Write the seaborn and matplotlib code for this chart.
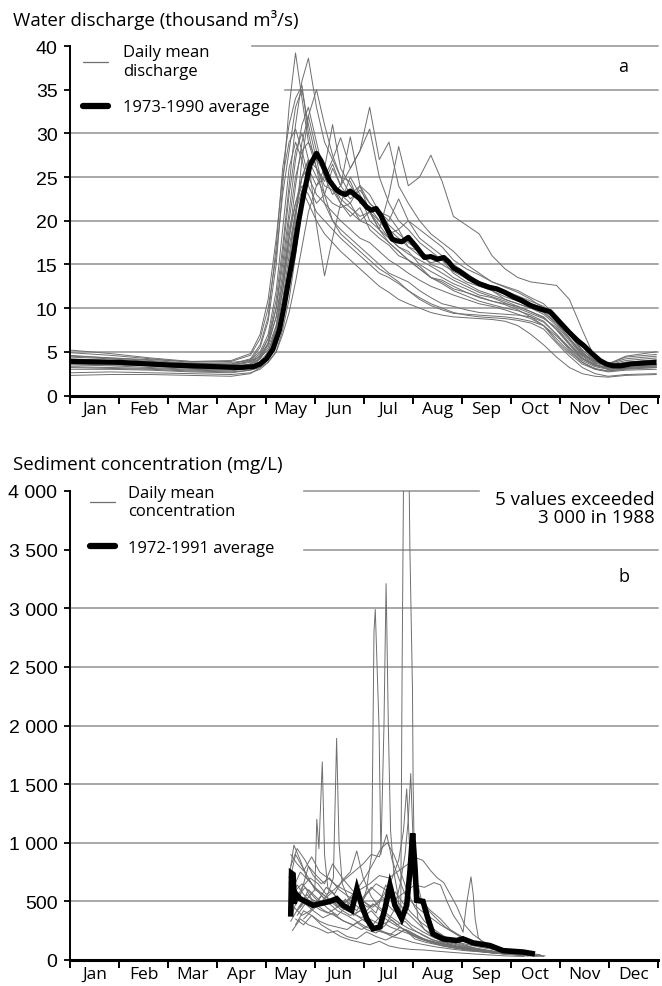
import numpy as np
import pandas as pd
import matplotlib
matplotlib.use("Agg")
import matplotlib.pyplot as plt
from matplotlib.lines import Line2D
from matplotlib.patches import Rectangle
import seaborn as sns

# ---------------------------------------------------------------- data
months = ["Jan", "Feb", "Mar", "Apr", "May", "Jun",
          "Jul", "Aug", "Sep", "Oct", "Nov", "Dec"]

# daily discharge (thousand m3/s), sampled on a common day-of-year grid
q_days = [0, 25, 50, 75, 100, 112, 118, 123, 128, 132, 136, 140, 144, 148, 153,
          158, 163, 168, 174, 180, 186, 192, 198, 204, 210, 217, 224, 231, 238,
          246, 254, 262, 270, 278, 286, 294, 302, 310, 318, 326, 334, 345, 364]

q_1973 = [4.2, 4.0, 3.7, 3.4, 3.4, 4.0, 5.5, 8.5, 15, 24, 33, 39.2, 34, 29, 26,
          24, 23.5, 22, 20.5, 21.5, 19, 18, 17.2, 16, 15.5, 14.8, 13.5, 13.2, 12.5,
          11.8, 11.2, 10.8, 10.5, 10.2, 9.6, 9.0, 7.5, 5.8, 4.2, 3.4, 3.2, 3.5, 3.6]
q_1974 = [3.8, 3.7, 3.5, 3.2, 3.1, 3.6, 4.6, 6.5, 11, 17, 24, 31, 36, 38.6, 33,
          29, 27, 25, 24.5, 22, 21.5, 20, 18.5, 19, 17, 16, 15.2, 15.5, 14,
          13, 12.5, 12, 11, 10.5, 10, 9.5, 8.2, 6.5, 4.8, 3.9, 3.4, 3.8, 4.1]
q_1975 = [3.5, 3.4, 3.2, 3.0, 2.9, 3.1, 3.6, 4.3, 6, 9, 14, 20, 27, 32, 35,
          31, 27.5, 25, 23, 24, 21, 19.5, 18, 17, 16.5, 15, 14.2, 13.5, 12.8,
          12.2, 11.5, 11.2, 10.6, 10.0, 9.4, 8.8, 7.8, 6.0, 4.5, 3.5, 3.0, 3.2, 3.4]
q_1976 = [4.6, 4.3, 4.0, 3.7, 3.6, 4.2, 5.8, 9, 17, 26, 31, 34, 35.5, 30, 26,
          22, 20, 19, 18, 17, 16, 15, 14, 13.5, 13, 12, 11.2, 10.5, 10.2,
          9.8, 9.5, 9.4, 9.3, 9.2, 9.0, 8.4, 7.0, 5.2, 3.8, 3.0, 2.7, 2.9, 3.0]
q_1977 = [3.3, 3.2, 3.1, 2.9, 2.8, 3.2, 4.2, 6, 10, 16, 23, 28, 30, 27, 19.5,
          13.7, 18, 22, 25, 23, 20, 19, 17.5, 16.5, 15.5, 14.5, 13.5, 12.8, 12.0,
          11.4, 10.8, 10.4, 10.0, 9.7, 9.2, 8.5, 7.0, 5.5, 4.2, 3.5, 3.2, 3.4, 3.5]
q_1978 = [4.0, 3.9, 3.7, 3.5, 3.4, 3.8, 4.5, 6, 9, 13, 18, 22, 25, 26, 24,
          25, 27, 29.5, 26, 28, 33, 27, 29, 24, 22, 20, 18.5, 17.5, 16.5,
          15, 14, 13, 12.5, 12.0, 11.2, 10.5, 9.0, 7.0, 5.2, 4.0, 3.6, 4.2, 4.5]
q_1979 = [4.5, 4.3, 4.1, 3.9, 3.8, 4.0, 4.4, 5.2, 7, 10, 15, 21, 25, 27, 25,
          23, 22, 21.5, 22, 20, 21, 19, 23, 28.5, 24, 25, 27.5, 24.5, 20.5,
          19.5, 18.5, 16, 14.5, 13.5, 13.0, 12.8, 12.6, 11.0, 7.5, 4.2, 3.6, 4.5, 5.0]
q_1980 = [5.2, 4.8, 4.3, 3.9, 4.0, 4.8, 7, 11, 18, 25, 29, 30.5, 28, 25, 23,
          22, 21, 20, 19, 18, 17.5, 16.5, 15.5, 14.8, 14, 13.2, 12.5, 12, 11.5,
          11, 10.5, 10.2, 9.8, 9.3, 8.8, 8.0, 6.2, 4.8, 3.6, 3.0, 2.8, 3.0, 3.2]
q_1981 = [3.6, 3.5, 3.4, 3.2, 3.1, 3.5, 4.2, 5.5, 8, 12, 18, 24, 29, 32, 28,
          26, 31, 26, 24, 22.5, 21, 20, 19, 18, 17, 16.5, 15, 14.5, 13.5,
          12.8, 12, 11.5, 11, 10.5, 10, 9.3, 8.0, 6.3, 4.6, 3.7, 3.3, 3.6, 3.9]
q_1982 = [2.6, 2.7, 2.6, 2.5, 2.4, 2.6, 3.0, 3.8, 5, 7.5, 11, 16, 22, 26, 28,
          25, 23, 24, 26, 28, 30.5, 25, 22, 20, 19, 17.5, 16.5, 15.5, 14.5,
          13.5, 12.8, 12.2, 11.6, 11, 10.4, 9.8, 8.6, 7.0, 5.0, 3.6, 3.0, 3.2, 3.4]
q_1983 = [3.0, 3.0, 2.9, 2.7, 2.6, 2.9, 3.5, 4.8, 8, 13, 19, 22, 24, 23, 21,
          20, 19, 18, 17, 16, 15, 14, 13.5, 12.8, 12, 11.2, 10.5, 10, 9.5,
          9.2, 9.0, 8.9, 8.8, 8.6, 8.3, 7.6, 6.0, 4.5, 3.2, 2.5, 2.2, 2.4, 2.5]
q_1984 = [4.4, 4.2, 3.9, 3.6, 3.5, 3.9, 4.8, 6.5, 10, 15, 21, 27, 31, 33, 29,
          25, 24, 23, 22, 24, 22, 21, 20, 22.5, 20, 18, 17, 16, 15,
          14, 13, 12.5, 12, 11.4, 10.8, 10.2, 8.8, 7.2, 5.2, 4.0, 3.5, 4.0, 4.3]
q_1985 = [3.2, 3.1, 3.0, 2.8, 2.7, 2.9, 3.2, 3.8, 5, 7, 9.5, 13, 17, 21, 24,
          26, 24, 22, 21, 20, 19.5, 18.5, 17.5, 16.5, 15.5, 14.5, 13.5, 13, 12.2,
          11.8, 11.3, 10.8, 10.4, 9.8, 9.0, 8.0, 6.5, 5.0, 3.8, 3.1, 2.8, 3.1, 3.3]
q_1986 = [4.9, 4.6, 4.2, 3.8, 3.9, 4.6, 6.5, 10, 16, 23, 28, 33, 35, 31, 27,
          23, 20, 18.5, 17.5, 16.5, 15.5, 14.5, 13.8, 13, 12, 11, 10.3, 9.8, 9.4,
          9.3, 9.2, 9.1, 9.0, 8.8, 8.5, 8.0, 6.8, 5.4, 4.0, 3.3, 3.0, 3.1, 3.2]
q_1987 = [3.7, 3.6, 3.4, 3.1, 3.0, 3.3, 3.9, 5, 7.5, 11, 16, 21, 25, 27, 26,
          24.5, 26.5, 24, 22.5, 23.5, 22, 21, 20.5, 19, 20, 19, 18, 17, 15.5,
          14.5, 13.8, 13.0, 12.4, 11.8, 11.0, 10.0, 8.4, 6.5, 4.7, 3.8, 3.4, 3.8, 4.0]
q_1988 = [4.1, 4.0, 3.8, 3.6, 3.6, 4.1, 5.0, 7, 12, 19, 26, 29, 27, 24, 22,
          23, 26, 24, 29.6, 24, 23, 21, 19.5, 18.5, 17.5, 16.5, 15.8, 15, 14.2,
          13.4, 12.6, 12.0, 11.3, 10.8, 10.2, 9.6, 8.3, 6.6, 4.9, 3.9, 3.6, 4.4, 4.7]
q_1989 = [2.3, 2.4, 2.4, 2.3, 2.2, 2.5, 3.2, 4.5, 7.5, 12, 17, 21, 23.5, 22, 20,
          18.5, 17.5, 16.5, 15.5, 14.5, 13.5, 12.5, 11.8, 11, 10.5, 10, 9.5, 9.2, 9.0,
          8.9, 8.8, 8.7, 8.5, 8.0, 7.0, 5.8, 4.4, 3.2, 2.5, 2.2, 2.1, 2.3, 2.4]
q_1990 = [3.9, 3.8, 3.6, 3.4, 3.3, 3.6, 4.3, 5.8, 9, 14, 20, 25, 28, 29, 27,
          25.5, 24, 22.5, 21.5, 20.5, 21, 19, 18, 17, 16.2, 15.5, 14.8, 14, 13.2,
          12.5, 11.8, 11.3, 10.8, 10.2, 9.6, 8.9, 7.6, 5.9, 4.3, 3.5, 3.1, 3.4, 3.7]

q_years = {1973: q_1973, 1974: q_1974, 1975: q_1975, 1976: q_1976, 1977: q_1977,
           1978: q_1978, 1979: q_1979, 1980: q_1980, 1981: q_1981, 1982: q_1982,
           1983: q_1983, 1984: q_1984, 1985: q_1985, 1986: q_1986, 1987: q_1987,
           1988: q_1988, 1989: q_1989, 1990: q_1990}

# 1973-1990 average discharge
avg_q_days = [0, 30, 60, 90, 105, 114, 118, 122, 126, 130, 133, 136, 139, 142, 145,
              149, 153, 156, 161, 165, 168, 171, 174, 180, 184, 187, 190, 193, 196,
              200, 203, 206, 210, 215, 220, 224, 228, 232, 235, 238, 242, 248, 254,
              260, 265, 270, 275, 280, 286, 292, 298, 302, 306, 310, 315, 319, 324,
              329, 333, 337, 342, 348, 355, 364]
avg_q_vals = [3.9, 3.8, 3.5, 3.3, 3.2, 3.3, 3.6, 4.2, 5.3, 7.5, 10.3, 13.5, 16.5, 20.0, 23.0,
              26.4, 27.7, 26.8, 24.6, 23.6, 23.2, 23.0, 23.4, 22.5, 21.6, 21.2, 21.4, 20.6, 19.4,
              17.9, 17.7, 17.6, 18.1, 17.0, 15.8, 15.9, 15.6, 15.8, 15.3, 14.6, 14.2, 13.4, 12.8,
              12.4, 12.2, 11.8, 11.3, 10.9, 10.3, 9.9, 9.6, 8.8, 8.0, 7.2, 6.3, 5.7, 4.8,
              4.0, 3.6, 3.4, 3.4, 3.6, 3.7, 3.8]

# daily sediment concentration (mg/L), one record per year (day-of-year, value)
c1972_days = [136, 139, 143, 147, 152, 157, 163, 169, 175, 181, 187, 193, 199, 205, 211,
              217, 224, 231, 239, 248, 258, 268, 279, 290]
c1972_vals = [700, 980, 850, 700, 620, 560, 500, 440, 400, 360, 420, 330, 280, 250, 220,
              180, 150, 120, 100, 80, 65, 55, 45, 35]
c1973_days = [136, 140, 144, 148, 152, 153.2, 154.5, 156.6, 158, 160, 164, 168, 173, 178,
              183, 188, 193, 198, 204, 210, 216, 222, 230, 238, 246, 256, 266, 276, 286]
c1973_vals = [650, 900, 800, 700, 600, 1200, 950, 1690, 900, 620, 560, 500, 420, 380,
              330, 300, 380, 330, 280, 250, 200, 170, 140, 120, 100, 80, 65, 50, 40]
c1974_days = [138, 142, 146, 150, 155, 160, 163.5, 165.5, 167, 169, 173, 178, 183, 188,
              193, 198, 203, 208, 213, 219, 225, 232, 240, 248, 257, 266, 275, 284]
c1974_vals = [400, 550, 620, 520, 480, 560, 700, 1890, 1000, 650, 520, 460, 400, 480,
              420, 360, 300, 330, 260, 210, 170, 150, 120, 100, 85, 70, 55, 45]
c1975_days = [140, 145, 150, 155, 160, 166, 172, 178, 184, 190, 196, 201, 205, 208, 210,
              211.5, 213, 215, 218, 222, 227, 233, 240, 248, 256, 265, 274, 283, 292]
c1975_vals = [300, 420, 380, 330, 300, 280, 260, 320, 260, 230, 300, 420, 650, 900, 1200,
              1590, 1000, 700, 520, 430, 360, 280, 220, 170, 130, 100, 80, 60, 45]
c1976_days = [137, 141, 146, 151, 156, 161, 167, 173, 179, 185, 190, 195, 200, 204, 207,
              209, 211, 214, 218, 224, 230, 236, 243, 251, 260, 270, 281]
c1976_vals = [800, 950, 850, 720, 650, 700, 600, 540, 500, 450, 480, 560, 700, 850, 1100,
              1460, 900, 620, 500, 420, 350, 260, 200, 150, 110, 80, 55]
c1977_days = [140, 144, 149, 154, 159, 164, 170, 176, 182, 187, 192, 196.6, 200, 204, 208,
              213, 218, 224, 230, 236, 242, 249, 256, 264, 272, 281]
c1977_vals = [500, 620, 700, 650, 560, 600, 680, 750, 820, 900, 880, 1070, 850, 700, 560,
              480, 420, 360, 300, 250, 200, 160, 120, 95, 70, 50]
c1978_days = [142, 147, 152, 157, 162, 168, 174, 180, 186, 192, 198, 204, 210, 215, 219,
              224, 228, 232, 236, 240, 245, 250, 256, 263, 270, 278, 287]
c1978_vals = [450, 520, 600, 560, 500, 480, 520, 600, 650, 720, 700, 760, 820, 870, 850,
              760, 700, 660, 560, 460, 300, 220, 160, 120, 90, 70, 50]
c1979_days = [145, 150, 155, 160, 166, 172, 178, 184, 190, 196, 202, 208, 214, 220, 226,
              230, 234, 238, 242, 244, 246, 248.9, 250.3, 251.5, 253.5, 257, 262, 268,
              275, 283, 292]
c1979_vals = [350, 420, 480, 520, 450, 500, 420, 560, 650, 600, 520, 580, 640, 620, 660,
              640, 500, 380, 300, 237, 466, 709, 560, 350, 190, 140, 110, 85,
              65, 50, 40]
c1980_days = [140, 145, 150, 156, 162, 168, 174, 180, 186, 192, 198, 205, 212, 220, 228,
              237, 247, 258, 270, 282]
c1980_vals = [350, 300, 380, 300, 250, 200, 170, 150, 130, 160, 120, 100, 90, 85, 75,
              65, 55, 45, 35, 30]
c1981_days = [138, 143, 148, 153, 158, 163, 168, 173, 178, 183, 188, 193, 197, 201, 205,
              209, 214, 220, 227, 235, 244, 254, 265, 277, 289]
c1981_vals = [600, 750, 680, 600, 520, 580, 470, 520, 600, 700, 820, 950, 1000, 900, 760,
              600, 450, 330, 250, 180, 140, 110, 85, 60, 40]
c1982_days = [141, 146, 151, 156, 161, 166, 172, 178, 184, 190, 196, 202, 208, 214, 221,
              229, 238, 248, 259, 271, 283]
c1982_vals = [420, 500, 460, 550, 480, 420, 380, 330, 280, 250, 230, 210, 260, 220, 170,
              140, 110, 85, 65, 50, 40]
c1983_days = [139, 144, 149, 154, 159, 164, 169, 174, 178, 182, 187, 192, 198, 204, 210,
              217, 224, 232, 241, 251, 262, 274, 286]
c1983_vals = [450, 380, 420, 500, 620, 560, 680, 750, 930, 700, 540, 450, 380, 320, 270,
              230, 180, 140, 110, 85, 65, 50, 35]
c1984_days = [137, 142, 147, 152, 158, 164, 170, 176, 182, 188, 194, 200, 206, 213, 220,
              228, 236, 245, 255, 266, 278, 290]
c1984_vals = [330, 450, 560, 480, 420, 380, 330, 300, 350, 280, 240, 200, 180, 150, 130,
              110, 95, 80, 70, 55, 45, 35]
c1985_days = [143, 148, 153, 158, 163, 169, 175, 181, 187, 192, 197, 202, 207, 212, 218,
              225, 233, 242, 252, 263, 275, 287, 295]
c1985_vals = [550, 800, 720, 650, 820, 700, 600, 520, 620, 560, 500, 580, 480, 400, 320,
              250, 190, 140, 100, 75, 60, 45, 35]
c1986_days = [138, 143, 148, 154, 160, 166, 172, 178, 184, 190, 196, 202, 208, 214, 221,
              228, 236, 244, 253, 263, 274, 285]
c1986_vals = [250, 350, 300, 270, 230, 250, 200, 180, 240, 200, 170, 210, 260, 180, 150,
              130, 110, 95, 80, 60, 45, 35]
c1987_days = [137, 141, 145, 150, 155, 160, 165, 170, 176, 182, 188, 194, 200, 206, 212,
              219, 226, 234, 243, 253, 264, 276]
c1987_vals = [900, 820, 760, 880, 750, 700, 640, 600, 560, 500, 450, 520, 430, 380, 300,
              240, 190, 150, 120, 95, 70, 50]
c1988_days = [137, 141, 145, 150, 155, 160, 166, 171, 176, 180, 184, 187.3, 188.7, 189.5,
              190.4, 191.8, 193, 194.9, 196.2, 196.6, 197.6, 199, 201, 203, 205.3, 206.1,
              207.3, 209.6, 210.6, 211.0, 212.6, 213.0, 214, 216, 220, 225, 231, 238, 246,
              255, 266, 280]
c1988_vals = [520, 640, 560, 480, 430, 400, 450, 520, 380, 420, 600, 900, 2800, 2990,
              2600, 2000, 900, 2000, 3210, 2900, 2000, 1100, 750, 600, 350, 2350,
              4600, 4400, 4000, 3500, 2300, 1500, 600, 350, 260, 200, 160, 120, 100,
              80, 60, 45]
c1989_days = [139, 144, 150, 156, 162, 168, 174, 180, 186, 193, 200, 207, 214, 222, 230,
              239, 249, 260, 272, 284]
c1989_vals = [580, 650, 560, 470, 520, 430, 380, 420, 350, 300, 340, 260, 200, 160, 130,
              105, 85, 65, 50, 35]
c1990_days = [141, 146, 151, 157, 163, 169, 175, 181, 187, 193, 199, 205, 211, 217, 224,
              231, 239, 248, 258, 268, 279, 291]
c1990_vals = [380, 480, 420, 360, 400, 340, 300, 260, 310, 250, 220, 280, 230, 190, 160,
              140, 120, 100, 80, 60, 45, 35]
c1991_days = [143, 148, 154, 160, 166, 172, 178, 184, 190, 196, 202, 208, 214, 220, 227,
              234, 242, 251, 261, 272, 283, 294]
c1991_vals = [450, 600, 520, 440, 380, 460, 560, 480, 400, 640, 520, 420, 340, 260, 200,
              160, 130, 100, 75, 55, 40, 30]

c_years = {1972: (c1972_days, c1972_vals), 1973: (c1973_days, c1973_vals),
           1974: (c1974_days, c1974_vals), 1975: (c1975_days, c1975_vals),
           1976: (c1976_days, c1976_vals), 1977: (c1977_days, c1977_vals),
           1978: (c1978_days, c1978_vals), 1979: (c1979_days, c1979_vals),
           1980: (c1980_days, c1980_vals), 1981: (c1981_days, c1981_vals),
           1982: (c1982_days, c1982_vals), 1983: (c1983_days, c1983_vals),
           1984: (c1984_days, c1984_vals), 1985: (c1985_days, c1985_vals),
           1986: (c1986_days, c1986_vals), 1987: (c1987_days, c1987_vals),
           1988: (c1988_days, c1988_vals), 1989: (c1989_days, c1989_vals),
           1990: (c1990_days, c1990_vals), 1991: (c1991_days, c1991_vals)}

# 1972-1991 average concentration
avg_c_days = [137.0, 137.5, 138.5, 139.2, 140.5, 142.8, 146.9, 150.8, 155.2, 161.4,
              165.5, 169.5, 174.9, 178.1, 181.1, 184.2, 188.1, 192.4, 195.5, 198.6,
              201.7, 205.9, 209.0, 211.0, 212.7, 214.2, 215.2, 219.1, 222.2, 225.3,
              231.5, 240.0, 243.9, 250.2, 260.7, 268.8, 281.2, 288.6]
avg_c_vals = [370, 740, 730, 480, 560, 523, 495, 466, 480, 500,
              523, 466, 423, 609, 466, 352, 266, 283, 437, 637,
              466, 352, 466, 754, 1080, 780, 509, 500, 352, 223,
              180, 166, 180, 146, 123, 80, 68, 51]

# ---------------------------------------------------------------- tables
df_q = pd.DataFrame([(yr, d, v) for yr, vals in q_years.items()
                     for d, v in zip(q_days, vals)],
                    columns=["year", "day", "discharge"])
df_c = pd.DataFrame([(yr, d, v) for yr, (days, vals) in c_years.items()
                     for d, v in zip(days, vals)],
                    columns=["year", "day", "concentration"])

# ---------------------------------------------------------------- style
sns.set_style("white")
plt.rcParams["font.family"] = ["Open Sans", "DejaVu Sans"]
plt.rcParams["axes.edgecolor"] = "black"
plt.rcParams["xtick.color"] = "black"
plt.rcParams["ytick.color"] = "black"
plt.rcParams["text.color"] = "black"

NUM_FONT = ["Liberation Sans Narrow", "Liberation Sans", "DejaVu Sans"]
GREY = "#6e6e6e"
GRID = "#a8a8a8"
W, H = 662, 987
fig = plt.figure(figsize=(W / 100, H / 100), dpi=100)


def axes_px(left, top, right, bottom):
    return fig.add_axes([left / W, 1 - bottom / H, (right - left) / W, (bottom - top) / H])


ax_q = axes_px(70, 47, 658, 396.5)
ax_c = axes_px(70, 492, 658, 961)

month_edges = np.arange(13) * 365 / 12
month_mids = month_edges[:-1] + 365 / 24


def style_axis(ax, ymax, ystep, fmt):
    ax.set_xlim(0, 365)
    ax.set_ylim(0, ymax)
    ax.set_xticks(month_edges)
    ax.set_xticklabels([])
    ax.set_xticks(month_mids, minor=True)
    ax.set_xticklabels(months, minor=True, fontsize=12.5)
    ax.tick_params(axis="x", which="major", direction="out", length=6, width=1.4,
                   bottom=True)
    ax.tick_params(axis="x", which="minor", length=0, pad=4, bottom=True)
    ticks = np.arange(0, ymax + 1, ystep)
    ax.set_yticks(ticks, labels=[fmt(t) for t in ticks], fontfamily=NUM_FONT,
                  fontsize=14)
    ax.tick_params(axis="y", direction="out", length=4, width=1.3, pad=5, left=True)
    for t in ticks[1:]:
        ax.axhline(t, color=GRID, lw=1.4, zorder=0.5, clip_on=False)
    for s in ["top", "right"]:
        ax.spines[s].set_visible(False)
    ax.spines["left"].set_linewidth(1.4)
    ax.spines["bottom"].set_linewidth(2.2)
    ax.spines["bottom"].set_zorder(5)
    ax.set_xlabel("")
    ax.set_ylabel("")


# ---------------------------------------------------------------- panel a
sns.lineplot(data=df_q, x="day", y="discharge", units="year", estimator=None,
             color=GREY, lw=0.7, legend=False, ax=ax_q, zorder=2)
sns.lineplot(x=avg_q_days, y=avg_q_vals, color="black", lw=3.7, ax=ax_q,
             zorder=4, solid_joinstyle="round", solid_capstyle="butt")
style_axis(ax_q, 40, 5, lambda v: f"{int(v)}")

# white patches keep the legend area clear of grid lines
ytr = ax_q.get_yaxis_transform()
ax_q.add_patch(Rectangle((0, 39.3), 0.306, 1.5, transform=ytr, color="white",
                         zorder=1, clip_on=False))
ax_q.add_patch(Rectangle((0, 34.2), 0.362, 1.6, transform=ytr, color="white",
                         zorder=1, clip_on=False))

handles = [Line2D([], [], color=GREY, lw=0.9), Line2D([], [], color="black", lw=4.5)]
ax_q.legend(handles, ["Daily mean\ndischarge", "1973-1990 average"],
            loc="upper left", bbox_to_anchor=(0.022, 1.005), frameon=False,
            fontsize=12, handlelength=1.5, handletextpad=0.9, labelspacing=1.25,
            borderaxespad=0, borderpad=0)

fig.text(13 / W, 1 - 20 / H, "Water discharge (thousand m³/s)", ha="left",
         va="center", fontsize=13.5)
fig.text(623 / W, 1 - 67 / H, "a", ha="center", va="center", fontsize=13)

# ---------------------------------------------------------------- panel b
sns.lineplot(data=df_c, x="day", y="concentration", units="year", estimator=None,
             color=GREY, lw=0.7, legend=False, ax=ax_c, zorder=2)
sns.lineplot(x=avg_c_days, y=avg_c_vals, color="black", lw=4.0, ax=ax_c,
             zorder=4, solid_joinstyle="miter", solid_capstyle="butt")
style_axis(ax_c, 4000, 500, lambda v: f"{int(v):,}".replace(",", " "))

ytr = ax_c.get_yaxis_transform()
ax_c.add_patch(Rectangle((0, 3400), 0.395, 700, transform=ytr, color="white",
                         zorder=1, clip_on=False))
ax_c.add_patch(Rectangle((0.697, 3850), 0.31, 250, transform=ytr, color="white",
                         zorder=1, clip_on=False))

handles = [Line2D([], [], color=GREY, lw=0.9), Line2D([], [], color="black", lw=4.5)]
ax_c.legend(handles, ["Daily mean\nconcentration", "1972-1991 average"],
            loc="upper left", bbox_to_anchor=(0.034, 1.013), frameon=False,
            fontsize=12, handlelength=1.5, handletextpad=0.8, labelspacing=1.25,
            borderaxespad=0, borderpad=0)

fig.text(13 / W, 1 - 465 / H, "Sediment concentration (mg/L)", ha="left",
         va="center", fontsize=13.5)
fig.text(655 / W, 1 - 509 / H, "5 values exceeded\n3 000 in 1988", ha="right",
         va="center", fontsize=13.5, linespacing=0.95)
fig.text(624 / W, 1 - 577 / H, "b", ha="center", va="center", fontsize=13)

fig.savefig("out.png", dpi=100)
